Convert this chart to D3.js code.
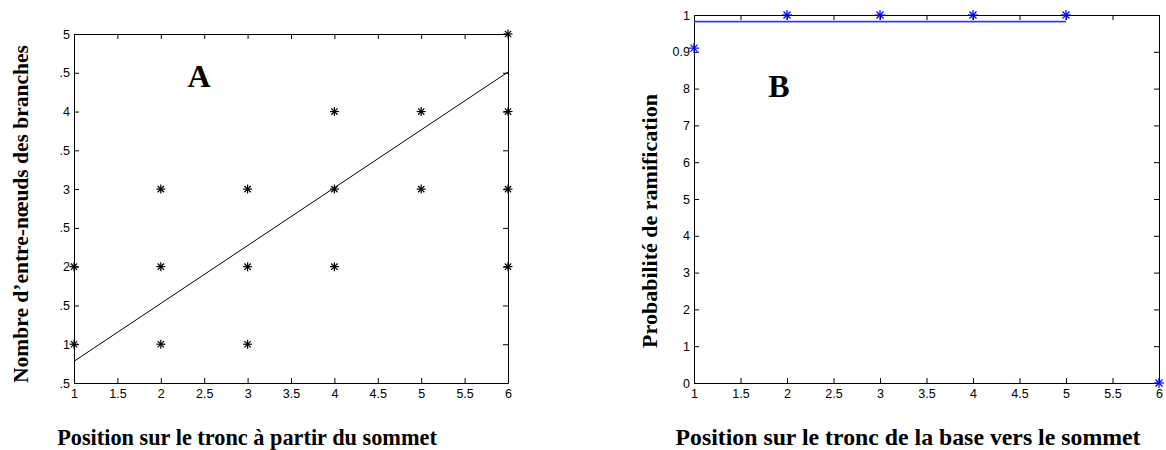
<!DOCTYPE html>
<html><head><meta charset="utf-8">
<script src="https://cdn.jsdelivr.net/npm/d3@7"></script>
<style>
body{margin:0;background:#fff;}
svg text{font-family:"Liberation Sans",Arial,sans-serif;}
.ttl{font-family:"Liberation Serif","Times New Roman",serif;font-weight:bold;}
</style></head><body>
<svg id="c" width="1166" height="450"></svg>
<script>
// ---- Data: panel A ----
const aX = [1,1,2,2,2,3,3,3,4,4,4,5,5,6,6,6,6];
const aY = [1,2,1,2,3,1,2,3,2,3,4,3,4,2,3,4,5];
const aFitX = [1,6];
const aFitY = [0.78,4.51];
const aXTicks = [1,1.5,2,2.5,3,3.5,4,4.5,5,5.5,6];
const aYTicks = [0.5,1,1.5,2,2.5,3,3.5,4,4.5,5];
const aYTickLabels = [".5","1",".5","2",".5","3",".5","4",".5","5"];
// ---- Data: panel B ----
const bX = [1,2,3,4,5,6];
const bY = [0.91,1,1,1,1,0];
const bLineX = [1,5];
const bLineY = [0.982,0.982];
const bXTicks = [1,1.5,2,2.5,3,3.5,4,4.5,5,5.5,6];
const bYTicks = [0,0.1,0.2,0.3,0.4,0.5,0.6,0.7,0.8,0.9,1];
const bYTickLabels = ["0","1","2","3","4","5","6","7","8","0.9","1"];

const svg = d3.select("#c");

function star(g, x, y, color, s){
  const p = g.append("g").attr("transform",`translate(${x},${y})`)
    .attr("stroke",color).attr("stroke-width",1.2).attr("fill","none");
  p.append("line").attr("x1",-s).attr("x2",s).attr("y1",0).attr("y2",0);
  p.append("line").attr("x1",0).attr("x2",0).attr("y1",-s).attr("y2",s);
  const d = s*0.7;
  p.append("line").attr("x1",-d).attr("x2",d).attr("y1",-d).attr("y2",d);
  p.append("line").attr("x1",-d).attr("x2",d).attr("y1",d).attr("y2",-d);
}

function panel(o){
  const x = d3.scaleLinear().domain(o.xd).range([o.l,o.r]);
  const y = d3.scaleLinear().domain(o.yd).range([o.b,o.t]);
  const g = svg.append("g");
  const fmtY = v => { const i = o.yTicks.findIndex(t=>Math.abs(t-v)<1e-9); return i>=0?o.yLabels[i]:""; };
  const style = sel => { sel.attr("font-size",12.5); sel.select(".domain").attr("stroke","#000"); sel.selectAll(".tick line").attr("stroke","#000");
    sel.selectAll("text").attr("font-size",12.5).attr("fill","#000").attr("font-family","'Liberation Sans',Arial,sans-serif"); };
  g.append("g").attr("transform",`translate(0,${o.b})`)
    .call(d3.axisBottom(x).tickValues(o.xTicks).tickSizeInner(-5).tickSizeOuter(0).tickPadding(6).tickFormat(d3.format("")))
    .call(style);
  g.append("g").attr("transform",`translate(0,${o.t})`)
    .call(d3.axisTop(x).tickValues(o.xTicks).tickSizeInner(-5).tickSizeOuter(0).tickFormat(""))
    .call(style);
  g.append("g").attr("transform",`translate(${o.l},0)`)
    .call(d3.axisLeft(y).tickValues(o.yTicks).tickSizeInner(-5).tickSizeOuter(0).tickPadding(4).tickFormat(fmtY))
    .call(style);
  g.append("g").attr("transform",`translate(${o.r},0)`)
    .call(d3.axisRight(y).tickValues(o.yTicks).tickSizeInner(-5).tickSizeOuter(0).tickFormat(""))
    .call(style);
  const line = d3.line().x((d,i)=>x(o.lx[i])).y((d,i)=>y(o.ly[i]));
  g.append("path").datum(o.lx).attr("d",line).attr("fill","none").attr("stroke",o.lineColor)
    .attr("stroke-width",o.lw);
  o.px.forEach((v,i)=>star(g, x(v), y(o.py[i]), o.color, o.ms));
  g.append("text").attr("class","ttl").attr("x",o.letterX).attr("y",o.letterY)
    .attr("text-anchor","middle").attr("font-size",32).text(o.letter);
  g.append("text").attr("class","ttl").attr("x",o.xtX).attr("y",445).attr("text-anchor","middle")
    .attr("font-size",o.xtSize).text(o.xTitle);
  g.append("text").attr("class","ttl").attr("transform",`translate(${o.ytX},${o.ytY}) rotate(-90)`)
    .attr("text-anchor","middle").attr("font-size",o.ytSize).text(o.yTitle);
}

panel({xd:[1,6], yd:[0.5,5], l:74, r:508, t:34, b:383,
  xTicks:aXTicks, yTicks:aYTicks, yLabels:aYTickLabels,
  px:aX, py:aY, lx:aFitX, ly:aFitY, color:"#000", lineColor:"#000", lw:1, ms:4.5,
  letter:"A", letterX:199, letterY:87,
  xTitle:"Position sur le tronc à partir du sommet", xtX:247, xtSize:22.3,
  yTitle:"Nombre d’entre-nœuds des branches", ytX:28, ytY:214, ytSize:21.5});

panel({xd:[1,6], yd:[0,1], l:694, r:1159, t:15, b:383,
  xTicks:bXTicks, yTicks:bYTicks, yLabels:bYTickLabels,
  px:bX, py:bY, lx:bLineX, ly:bLineY, color:"#0000ff", lineColor:"#3040f0", lw:1.8, ms:5,
  letter:"B", letterX:779, letterY:97,
  xTitle:"Position sur le tronc de la base vers le sommet", xtX:908, xtSize:23.8,
  yTitle:"Probabilité de ramification", ytX:657, ytY:221, ytSize:22});
</script></body></html>
